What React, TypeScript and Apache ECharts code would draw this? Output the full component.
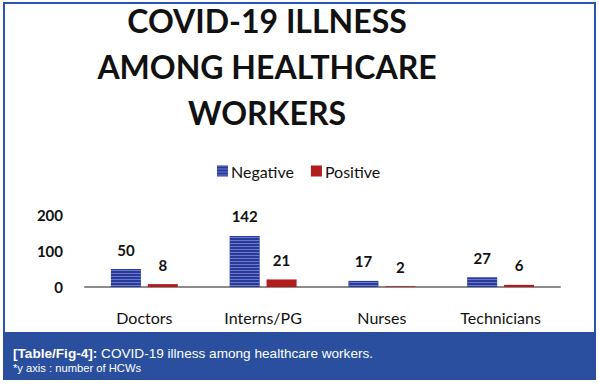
import React, { useEffect, useRef } from "react";
import * as echarts from "echarts";

const categories = ["Doctors", "Interns/PG", "Nurses", "Technicians"];
const negativeValues = [50, 142, 17, 27];
const positiveValues = [8, 21, 2, 6];
const seriesNames = ["Negative", "Positive"];
const titleText = "COVID-19 ILLNESS\nAMONG HEALTHCARE\nWORKERS";
const captionBold = "[Table/Fig-4]:";
const captionText = " COVID-19 illness among healthcare workers.";
const captionNote = "*y axis : number of HCWs";

export default function App() {
  const ref = useRef<HTMLDivElement>(null);
  useEffect(() => {
    if (!ref.current) return;
    const chart = echarts.init(ref.current, undefined, { renderer: "svg" });
    const labelStyle = {
      show: true,
      position: "top" as const,
      distance: 12,
      fontFamily: "Lato",
      fontWeight: "bold" as const,
      fontSize: 15,
      color: "#111",
    };
    chart.setOption({
      animation: false,
      backgroundColor: "#fff",
      title: {
        text: titleText,
        left: 262,
        top: -8,
        textAlign: "center",
        textStyle: {
          fontFamily: "Lato",
          fontWeight: "bold",
          fontSize: 32,
          lineHeight: 46,
          color: "#111",
        },
      },
      legend: {
        left: 212,
        top: 158,
        itemWidth: 11,
        itemHeight: 11,
        itemGap: 17,
        icon: "rect",
        textStyle: { fontFamily: "Lato", fontSize: 16, color: "#111", padding: [0, 0, 0, -2] },
        data: seriesNames,
      },
      grid: { left: 85, right: 39, top: 215, bottom: 97 },
      xAxis: {
        type: "category",
        data: categories,
        axisLine: { lineStyle: { color: "#8c8c8c", width: 2 } },
        axisTick: { show: false },
        axisLabel: { margin: 22, fontFamily: "Lato", fontSize: 16, color: "#111" },
      },
      yAxis: {
        type: "value",
        min: 0,
        max: 200,
        interval: 100,
        splitLine: { show: false },
        axisLine: { show: false },
        axisTick: { show: false },
        axisLabel: { margin: 22, fontFamily: "Lato", fontWeight: "bold", fontSize: 15, color: "#111" },
      },
      series: [
        {
          name: seriesNames[0],
          type: "bar",
          data: negativeValues,
          barWidth: 30,
          barGap: "23%",
          itemStyle: {
            color: "#2b3a98",
            decal: {
              symbol: "rect",
              symbolSize: 1,
              dashArrayX: [[1, 0]],
              dashArrayY: [1, 2],
              color: "rgba(130,150,230,0.7)",
              rotation: 0,
            },
          },
          label: labelStyle,
        },
        {
          name: seriesNames[1],
          type: "bar",
          data: positiveValues,
          barWidth: 30,
          itemStyle: { color: "#b21c1c" },
          label: labelStyle,
        },
      ],
      graphic: [
        {
          type: "rect",
          shape: { x: 4, y: 3, width: 591, height: 376 },
          style: { fill: "none", stroke: "#2b55b0", lineWidth: 2 },
          z: 10,
        },
        {
          type: "rect",
          shape: { x: 3, y: 332, width: 593, height: 48 },
          style: { fill: "#2a4f9e" },
          z: 11,
        },
        {
          type: "text",
          x: 13,
          y: 353,
          style: {
            text: "{b|" + captionBold + "}" + captionText,
            fill: "#fff",
            fontFamily: "Liberation Sans",
            fontSize: 13.6,
            verticalAlign: "middle",
            rich: {
              b: { fontWeight: "bold", fill: "#fff", fontFamily: "Liberation Sans", fontSize: 13.6 },
            },
          },
          z: 12,
        },
        {
          type: "text",
          x: 13,
          y: 368,
          style: {
            text: captionNote,
            fill: "#fff",
            fontFamily: "Liberation Sans",
            fontSize: 11.2,
            verticalAlign: "middle",
          },
          z: 12,
        },
      ],
    });
    return () => chart.dispose();
  }, []);
  return (
    <div
      ref={ref}
      style={{ position: "fixed", left: 0, top: 0, width: 599, height: 384 }}
    />
  );
}
